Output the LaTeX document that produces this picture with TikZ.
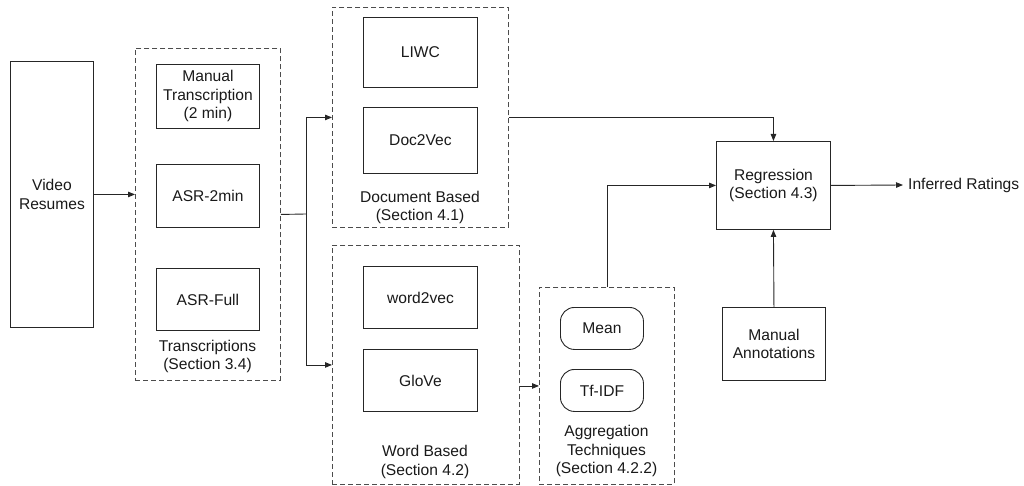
\documentclass[tikz,border=0pt]{standalone}
\usepackage{fontspec}
\setmainfont{Liberation Sans}
\usetikzlibrary{arrows.meta}
\begin{document}
\begin{tikzpicture}[x=1pt,y=-1pt,
  every node/.style={font=\fontsize{15.6}{18.5}\selectfont, text=black!90},
  box/.style={draw=black!85, line width=0.9pt, anchor=north west, inner sep=0pt, align=center},
  rbox/.style={box, rounded corners=14pt},
  grp/.style={draw=black!70, line width=0.9pt, dash pattern=on 5pt off 3pt, anchor=north west, inner sep=0pt},
  lbl/.style={align=center, inner sep=0pt},
  arr/.style={draw=black!85, line width=0.9pt, -{Triangle[length=7pt,width=5.5pt]}},
  ln/.style={draw=black!85, line width=0.9pt}]
\useasboundingbox (0,0) rectangle (1024,486);

% groups
\node[grp, minimum width=145pt, minimum height=332pt] (trans) at (135,48) {};
\node[grp, minimum width=176pt, minimum height=220pt] (doc) at (332,7) {};
\node[grp, minimum width=187pt, minimum height=239pt] (word) at (332,245) {};
\node[grp, minimum width=135pt, minimum height=197pt] (agg) at (539,287) {};

% boxes
\node[box, minimum width=83pt, minimum height=266pt] (video) at (10,61) {Video\\Resumes};
\node[box, minimum width=103pt, minimum height=64pt] (manual) at (156,64) {Manual\\Transcription\\(2 min)};
\node[box, minimum width=103pt, minimum height=63pt] (asr2) at (156,164) {ASR-2min};
\node[box, minimum width=103pt, minimum height=62pt] (asrf) at (156,268) {ASR-Full};
\node[box, minimum width=114pt, minimum height=70pt] (liwc) at (363,17) {LIWC};
\node[box, minimum width=114pt, minimum height=66pt] (d2v) at (363,107) {Doc2Vec};
\node[box, minimum width=114pt, minimum height=62pt] (w2v) at (363,266) {word2vec};
\node[box, minimum width=114pt, minimum height=62pt] (glove) at (363,349) {GloVe};
\node[rbox, minimum width=83pt, minimum height=42pt] (mean) at (560,307) {Mean};
\node[rbox, minimum width=83pt, minimum height=42pt] (tfidf) at (560,369) {Tf-IDF};
\node[box, minimum width=114pt, minimum height=88pt] (reg) at (716,141) {Regression\\(Section 4.3)};
\node[box, minimum width=103pt, minimum height=73pt] (ann) at (722,307) {Manual\\Annotations};
\node[lbl, anchor=west, inner xsep=5pt] (out) at (903,185) {Inferred Ratings};

% group labels
\node[lbl] (transl) at (207.5,356.5) {Transcriptions\\(Section 3.4)};
\node[lbl] (docl) at (420,207.5) {Document Based\\(Section 4.1)};
\node[lbl] (wordl) at (425,462) {Word Based\\(Section 4.2)};
\node[lbl] (aggl) at (606.5,451) {Aggregation\\Techniques\\(Section 4.2.2)};

% connectors
\coordinate (split) at (306,214);
\draw[arr] (video.east) -- (trans.west |- video.east);
\draw[ln] (trans.east) -- (split);
\draw[arr] (split) |- (doc.west);
\draw[arr] (split) |- (word.west);
\draw[arr] (doc.east) -| (reg.north);
\draw[arr] (word.east |- agg.west) -- (agg.west);
\draw[arr] (agg.north) |- (reg.west);
\draw[arr] (reg.east) -- (out.west);
\draw[arr] (ann.north) -- (reg.south);
\end{tikzpicture}
\end{document}
